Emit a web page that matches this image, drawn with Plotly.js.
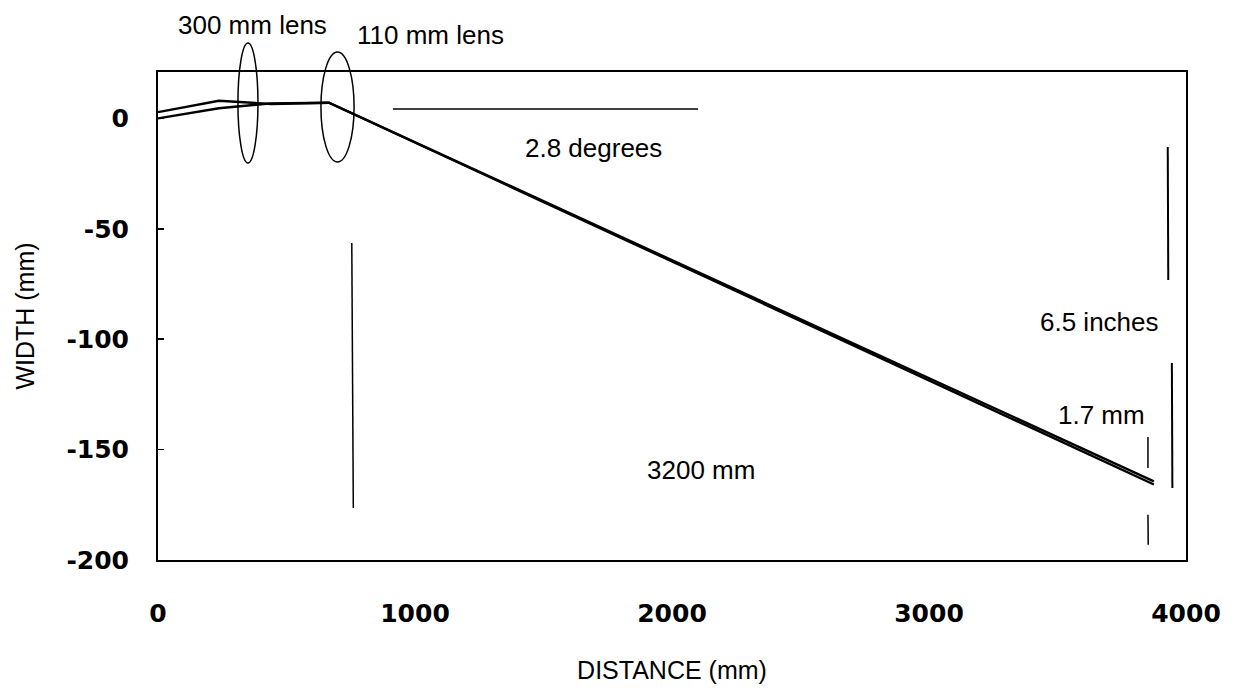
<!DOCTYPE html>
<html>
<head>
<meta charset="utf-8">
<script src="https://cdn.plot.ly/plotly-3.0.1.min.js"></script>
<style>
  html, body { margin: 0; padding: 0; background: #fff; }
  #chart { width: 1235px; height: 690px; }
</style>
</head>
<body>
<div id="chart"></div>
<script>
// ---- data ----
const upperX = [0, 237, 440, 665, 3875];
const upperY = [2.8, 8.0, 6.5, 7.1, -164.4];
const lowerX = [0, 237, 440, 665, 3875];
const lowerY = [0.0, 4.6, 6.8, 7.1, -165.8];

const xTickVals = [0, 1000, 2000, 3000, 4000];
const xTickText = ['0', '1000', '2000', '3000', '4000'];
const yTickVals = [0, -50, -100, -150, -200];
const yTickText = ['0', '-50', '-100', '-150', '-200'];

const xTitle = 'DISTANCE (mm)';
const yTitle = 'WIDTH (mm)';

// annotation texts
const lens1Label = '300 mm lens';
const lens2Label = '110 mm lens';
const angleLabel = '2.8 degrees';
const lengthLabel = '3200 mm';
const widthLabel = '6.5 inches';
const gapLabel = '1.7 mm';

const lineStyle = {color: '#000', width: 2.4};
const traces = [
  {x: upperX, y: upperY, type: 'scatter', mode: 'lines', line: lineStyle, hoverinfo: 'skip', showlegend: false},
  {x: lowerX, y: lowerY, type: 'scatter', mode: 'lines', line: lineStyle, hoverinfo: 'skip', showlegend: false}
];

const annFont = {family: 'Liberation Sans, Arial, sans-serif', size: 26, color: '#000'};
const thin = {color: '#000', width: 1.5};

const layout = {
  width: 1235, height: 690,
  margin: {l: 158, r: 49, t: 72, b: 130},
  paper_bgcolor: '#fff', plot_bgcolor: '#fff',
  showlegend: false,
  xaxis: {
    range: [0, 4000], tickvals: xTickVals, ticktext: xTickText,
    showgrid: false, zeroline: false, showline: true, mirror: true,
    linecolor: '#000', linewidth: 2, ticks: '',
    tickfont: {family: 'DejaVu Sans, sans-serif', size: 25, color: '#000', weight: 'bold'},
    ticklabelstandoff: 30,
    title: {text: xTitle, standoff: 34, font: {family: 'Liberation Sans, Arial, sans-serif', size: 25, color: '#000'}}
  },
  yaxis: {
    range: [-200, 21], tickvals: yTickVals, ticktext: yTickText,
    showgrid: false, zeroline: false, showline: true, mirror: true,
    linecolor: '#000', linewidth: 2, ticks: 'inside', ticklen: 6, tickcolor: '#000', tickwidth: 1.5,
    tickfont: {family: 'DejaVu Sans, sans-serif', size: 25, color: '#000', weight: 'bold'},
    ticklabelstandoff: 22,
    title: {text: yTitle, standoff: 25, font: {family: 'Liberation Sans, Arial, sans-serif', size: 25, color: '#000'}}
  },
  shapes: [
    // lens ellipses
    {type: 'circle', xref: 'x', yref: 'paper', x0: 311, x1: 389, y0: 0.8135, y1: 1.0594, line: thin},
    {type: 'circle', xref: 'x', yref: 'paper', x0: 634, x1: 763, y0: 0.8156, y1: 1.041, line: thin},
    // horizontal reference for the angle
    {type: 'line', xref: 'x', yref: 'y', x0: 914, x1: 2101, y0: 4.3, y1: 4.3, line: thin},
    // vertical marker after the second lens
    {type: 'line', xref: 'x', yref: 'y', x0: 754, x1: 760, y0: -56.4, y1: -176.4, line: thin},
    // 6.5 inch span marks
    {type: 'line', xref: 'x', yref: 'y', x0: 3929, x1: 3931, y0: -13, y1: -73.2, line: {color: '#000', width: 2}},
    {type: 'line', xref: 'x', yref: 'y', x0: 3945, x1: 3947, y0: -110.8, y1: -167.4, line: {color: '#000', width: 2}},
    // 1.7 mm dashes
    {type: 'line', xref: 'x', yref: 'y', x0: 3852, x1: 3852, y0: -144.3, y1: -158.3, line: thin},
    {type: 'line', xref: 'x', yref: 'y', x0: 3852, x1: 3853, y0: -179.5, y1: -193.1, line: thin}
  ],
  annotations: [
    {text: lens1Label, xref: 'x', yref: 'paper', x: 366, y: 1.097, showarrow: false, font: annFont, xanchor: 'center', yanchor: 'middle'},
    {text: lens2Label, xref: 'x', yref: 'paper', x: 1062, y: 1.076, showarrow: false, font: annFont, xanchor: 'center', yanchor: 'middle'},
    {text: angleLabel, xref: 'x', yref: 'y', x: 1696, y: -13.4, showarrow: false, font: annFont, xanchor: 'center', yanchor: 'middle'},
    {text: lengthLabel, xref: 'x', yref: 'y', x: 2111, y: -159.2, showarrow: false, font: annFont, xanchor: 'center', yanchor: 'middle'},
    {text: widthLabel, xref: 'x', yref: 'y', x: 3663, y: -92.2, showarrow: false, font: annFont, xanchor: 'center', yanchor: 'middle'},
    {text: gapLabel, xref: 'x', yref: 'y', x: 3673, y: -134.3, showarrow: false, font: annFont, xanchor: 'center', yanchor: 'middle'}
  ]
};

Plotly.newPlot('chart', traces, layout, {staticPlot: true, displayModeBar: false});
</script>
</body>
</html>
